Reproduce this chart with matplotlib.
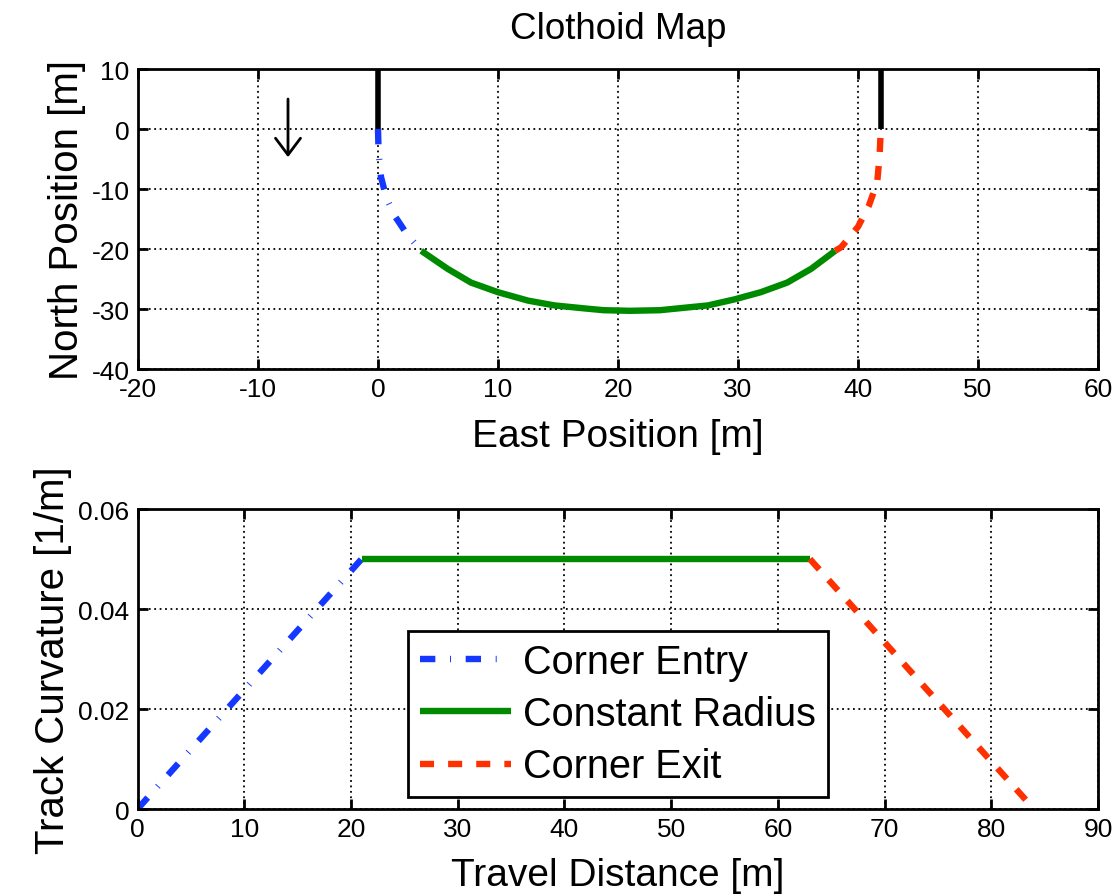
import matplotlib
matplotlib.use("Agg")
import matplotlib.pyplot as plt

plt.rcParams['font.family'] = ['Liberation Sans', 'DejaVu Sans']
plt.rcParams['axes.unicode_minus'] = False

# ---- data: top plot (East, North) path segments ----
entry_east = [0.0, 0.05, 0.25, 0.7, 1.4, 2.4, 3.6]
entry_north = [0.0, -4.0, -8.0, -11.5, -14.5, -17.5, -20.3]
const_east = [3.6, 5.8, 7.75, 10.0, 12.5, 14.7, 17.2, 18.8, 21.0, 23.5, 25.5,
              27.5, 29.7, 31.9, 34.1, 36.1, 38.1]
const_north = [-20.3, -23.3, -25.6, -27.2, -28.6, -29.4, -29.9, -30.2, -30.3,
               -30.2, -29.8, -29.4, -28.4, -27.2, -25.6, -23.3, -20.3]
exit_east = [38.1, 38.6, 40.0, 40.9, 41.6, 41.8, 41.9]
exit_north = [-20.3, -19.7, -16.3, -12.8, -8.9, -4.4, 0.0]
lead_in_east = [0.0, 0.0]
lead_in_north = [0.0, 10.0]
lead_out_east = [41.9, 41.9]
lead_out_north = [0.0, 10.0]
arrow_east = -7.5
arrow_north = [5.0, -4.7]

# ---- data: bottom plot curvature vs travel distance ----
entry_s = [0.0, 21.0]
entry_k = [0.0, 0.05]
const_s = [21.0, 63.0]
const_k = [0.05, 0.05]
exit_s = [63.0, 84.0]
exit_k = [0.05, 0.0]

top_xticks = [-20, -10, 0, 10, 20, 30, 40, 50, 60]
top_yticks = [-40, -30, -20, -10, 0, 10]
bot_xticks = [0, 10, 20, 30, 40, 50, 60, 70, 80, 90]
bot_yticks = [0, 0.02, 0.04, 0.06]
bot_yticklabels = ['0', '0.02', '0.04', '0.06']
labels = ['Corner Entry', 'Constant Radius', 'Corner Exit']

blue = '#1438ff'
green = '#008a00'
red = '#ff3000'
LW = 4.6

fig = plt.figure(figsize=(11.2, 8.95), dpi=100)
ax1 = fig.add_axes([138/1120, 1-370/895, 960/1120, 300/895])
ax2 = fig.add_axes([137.5/1120, 1-810/895, 960.5/1120, 300/895])


def style(ax):
    for sp in ax.spines.values():
        sp.set_linewidth(2.0)
    ax.tick_params(direction='in', top=True, right=True, length=7, width=2.0,
                   labelsize=19, pad=6)
    ax.grid(True, color='black', linestyle=(0, (1, 2)), linewidth=1.3)
    ax.set_axisbelow(True)


dashdot = (0, (2.4, 2.3, 0.15, 2.3))
dashed = (0, (2.2, 2.2))

# top plot
ax1.plot(lead_in_east, lead_in_north, color='black', lw=4.0, solid_capstyle='butt')
ax1.plot(lead_out_east, lead_out_north, color='black', lw=4.0, solid_capstyle='butt')
ax1.plot(entry_east, entry_north, color=blue, lw=LW, linestyle=dashdot, dash_capstyle='butt')
ax1.plot(const_east, const_north, color=green, lw=LW, solid_capstyle='butt')
ax1.plot(exit_east, exit_north, color=red, lw=LW, linestyle=dashed, dash_capstyle='butt')
ax1.annotate('', xy=(arrow_east, arrow_north[1]), xytext=(arrow_east, arrow_north[0]),
             arrowprops=dict(arrowstyle='->,head_length=0.6,head_width=0.45',
                             lw=2.0, color='black', mutation_scale=20,
                             shrinkA=0, shrinkB=0))
ax1.set_xlim(-20, 60)
ax1.set_ylim(-40, 10)
ax1.set_xticks(top_xticks)
ax1.set_yticks(top_yticks)
style(ax1)
ax1.set_title('Clothoid Map', fontsize=26.5, pad=22)
ax1.set_xlabel('East Position [m]', fontsize=28, labelpad=12)
ax1.set_ylabel('North Position [m]', fontsize=29, labelpad=4)

# bottom plot
ax2.plot(entry_s, entry_k, color=blue, lw=LW, linestyle=dashdot, dash_capstyle='butt', label=labels[0])
ax2.plot(const_s, const_k, color=green, lw=LW, solid_capstyle='butt', label=labels[1])
ax2.plot(exit_s, exit_k, color=red, lw=LW, linestyle=dashed, dash_capstyle='butt', label=labels[2])
ax2.set_xlim(0, 90)
ax2.set_ylim(0, 0.06)
ax2.set_xticks(bot_xticks)
ax2.set_yticks(bot_yticks)
ax2.set_yticklabels(bot_yticklabels)
style(ax2)
ax2.set_xlabel('Travel Distance [m]', fontsize=28, labelpad=11)
ax2.set_ylabel('Track Curvature [1/m]', fontsize=29, labelpad=4)
leg = ax2.legend(loc='upper left', bbox_to_anchor=((408-137.5)/960.5, (810-632)/300),
                 borderaxespad=0, fontsize=28.5, frameon=True, fancybox=False,
                 framealpha=1, edgecolor='black', handlelength=2.3,
                 handletextpad=0.3, labelspacing=0.36, borderpad=0.3)
leg.get_frame().set_linewidth(2.0)

fig.savefig('out.png', dpi=100)
